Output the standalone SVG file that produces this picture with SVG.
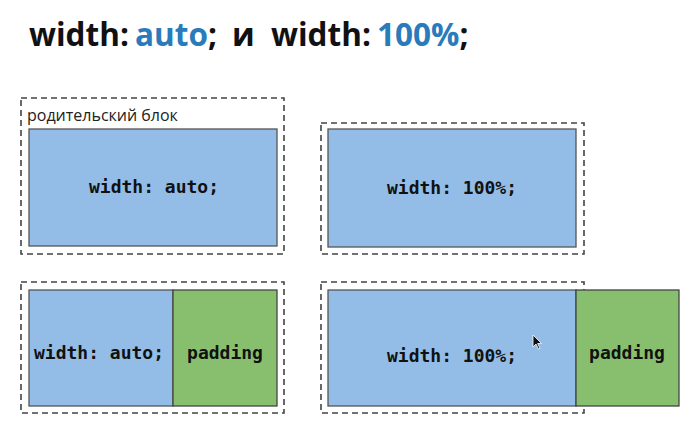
<svg xmlns="http://www.w3.org/2000/svg" width="691" height="426" viewBox="0 0 691 426">
<style>
.title{font-family:"Open Sans","Liberation Sans",sans-serif;font-weight:bold;font-size:31.5px;fill:#111}
.hl{fill:#2a7bbb}
.outer{fill:none;stroke:#444;stroke-width:1.6;stroke-dasharray:6 4}
.blue{fill:#93bde6;stroke:#555;stroke-width:1.3}
.green{fill:#87bf6e;stroke:#444;stroke-width:1.3}
.code{font-family:"DejaVu Sans Mono","Liberation Mono",monospace;font-weight:bold;font-size:18px;fill:#111;text-anchor:middle}
.lbl{font-family:"Open Sans","Liberation Sans",sans-serif;font-size:16px;fill:#222}
</style>
<rect width="691" height="426" fill="#fff"/>
<text class="title" y="46"><tspan x="29">width:</tspan><tspan x="135" class="hl">auto</tspan><tspan>;</tspan><tspan x="232">и</tspan><tspan x="271">width:</tspan><tspan x="377" class="hl">100%</tspan><tspan>;</tspan></text>

<g id="node1">
<rect class="outer" x="21" y="98" width="263" height="156"/>
<text class="lbl" x="27" y="121">родительский блок</text>
<rect class="blue" x="29" y="129" width="248" height="117"/>
<text class="code" x="154" y="193">width: auto;</text>
</g>

<g id="node2">
<rect class="outer" x="321" y="123" width="263" height="131"/>
<rect class="blue" x="328" y="129" width="248" height="118"/>
<text class="code" x="452" y="194">width: 100%;</text>
</g>

<g id="node3">
<rect class="outer" x="21" y="282" width="263" height="131"/>
<rect class="blue" x="29" y="290" width="144" height="116"/>
<rect class="green" x="173" y="290" width="104" height="116"/>
<text class="code" x="99" y="359">width: auto;</text>
<text class="code" x="225" y="359">padding</text>
</g>

<g id="node4">
<rect class="outer" x="321" y="282" width="263" height="131"/>
<rect class="blue" x="328" y="290" width="248" height="116"/>
<rect class="green" x="576" y="290" width="103" height="116"/>
<text class="code" x="452" y="362">width: 100%;</text>
<text class="code" x="627" y="359">padding</text>
<path d="M533 335 L533 347 L536 344 L538.5 349 L540 348.3 L537.6 343.5 L541.5 343.5 Z" fill="#111" stroke="#fff" stroke-width="0.8"/>
</g>

<g id="connectors"></g>
</svg>
